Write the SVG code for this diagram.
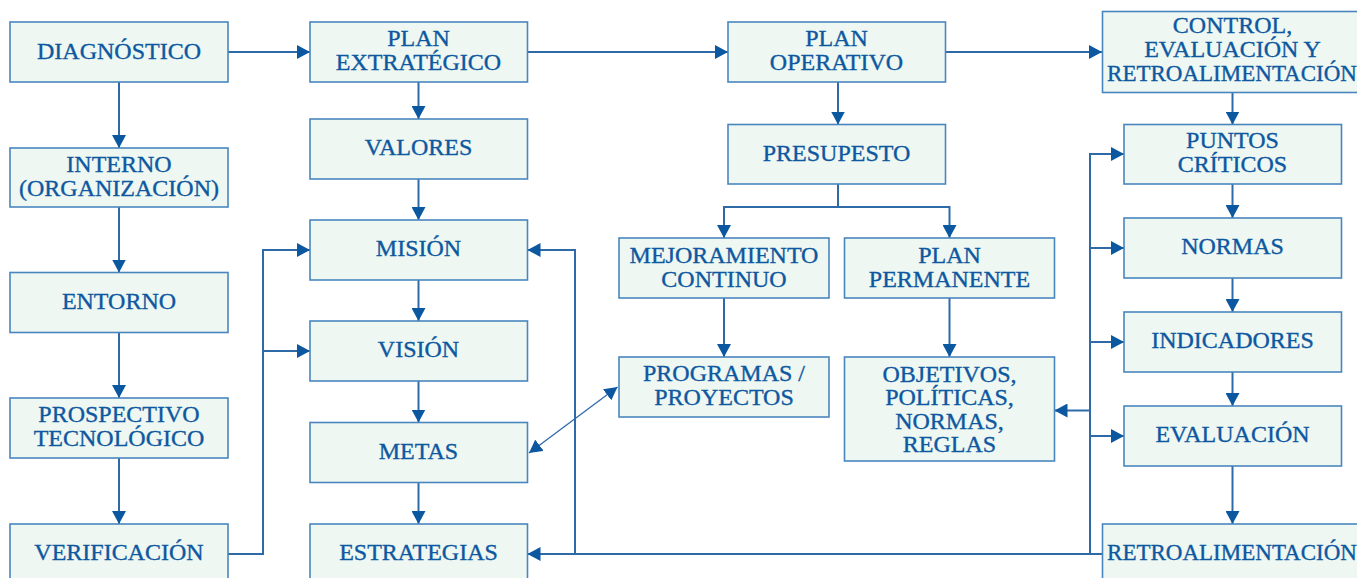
<svg xmlns="http://www.w3.org/2000/svg" width="1357" height="578" viewBox="0 0 1357 578">
<defs>
<style>
.box rect{fill:#eef7f2;stroke:#4a86be;stroke-width:1.6}
.box text{font-family:"Liberation Serif","Times New Roman",serif;font-size:24px;fill:#0d58a0;stroke:#0d58a0;stroke-width:0.35;text-anchor:middle}
.box text.w{font-size:23px}
.c{fill:none;stroke:#2f6aa8;stroke-width:2}
.thin{stroke-width:1.3}
</style>
<marker id="a" markerUnits="userSpaceOnUse" markerWidth="14" markerHeight="14" refX="13" refY="7" orient="auto">
<path d="M0,0 L13,7 L0,14 z" fill="#0b58a0"/>
</marker>
<marker id="as" markerUnits="userSpaceOnUse" markerWidth="14" markerHeight="14" refX="13" refY="7" orient="auto-start-reverse">
<path d="M0,0 L13,7 L0,14 z" fill="#0b58a0"/>
</marker>
</defs>
<rect width="1357" height="578" fill="#ffffff"/>

<g id="connectors">
<path class="c" d="M228,52 H310" marker-end="url(#a)"/>
<path class="c" d="M527,52 H728" marker-end="url(#a)"/>
<path class="c" d="M945.5,52 H1102" marker-end="url(#a)"/>
<path class="c" d="M119,82 V148" marker-end="url(#a)"/>
<path class="c" d="M119,207 V272.5" marker-end="url(#a)"/>
<path class="c" d="M119,332.5 V398" marker-end="url(#a)"/>
<path class="c" d="M119,458 V524" marker-end="url(#a)"/>
<path class="c" d="M228,554 H263 V250 H310" marker-end="url(#a)"/>
<path class="c" d="M263,351 H310" marker-end="url(#a)"/>
<path class="c" d="M418.5,82 V119" marker-end="url(#a)"/>
<path class="c" d="M418.5,179 V220" marker-end="url(#a)"/>
<path class="c" d="M418.5,280 V321" marker-end="url(#a)"/>
<path class="c" d="M418.5,381 V422.5" marker-end="url(#a)"/>
<path class="c" d="M418.5,482.5 V524" marker-end="url(#a)"/>
<path class="c" d="M838,82 V124.5" marker-end="url(#a)"/>
<path class="c" d="M838,184 V207 H724 V238" marker-end="url(#a)"/>
<path class="c" d="M838,207 H949.5 V238" marker-end="url(#a)"/>
<path class="c" d="M724,298 V357" marker-end="url(#a)"/>
<path class="c" d="M949.5,298 V357" marker-end="url(#a)"/>
<path class="c thin" d="M617.5,387 L529,453" marker-start="url(#as)" marker-end="url(#a)"/>
<path class="c" d="M1232.5,92.5 V124.5" marker-end="url(#a)"/>
<path class="c" d="M1232.5,184 V218" marker-end="url(#a)"/>
<path class="c" d="M1232.5,278 V312" marker-end="url(#a)"/>
<path class="c" d="M1232.5,372 V406" marker-end="url(#a)"/>
<path class="c" d="M1232.5,466 V524" marker-end="url(#a)"/>
<path class="c" d="M1102,554 H527.5" marker-end="url(#a)"/>
<path class="c" d="M1090,554 V154 H1124" marker-end="url(#a)"/>
<path class="c" d="M1090,248 H1124" marker-end="url(#a)"/>
<path class="c" d="M1090,342 H1124" marker-end="url(#a)"/>
<path class="c" d="M1090,436 H1124" marker-end="url(#a)"/>
<path class="c" d="M1090,410.5 H1054.5" marker-end="url(#a)"/>
<path class="c" d="M575,554 V250 H527.5" marker-end="url(#a)"/>
</g>

<g id="diagnostico" class="box"><rect x="10" y="22" width="218" height="60"/><text x="119" y="58.5">DIAGNÓSTICO</text></g>
<g id="interno" class="box"><rect x="10" y="148" width="218" height="59"/><text x="119" y="171.5">INTERNO</text><text x="119" y="195.5">(ORGANIZACIÓN)</text></g>
<g id="entorno" class="box"><rect x="10" y="272.5" width="218" height="60"/><text x="119" y="309">ENTORNO</text></g>
<g id="prospectivo" class="box"><rect x="10" y="398" width="218" height="60"/><text x="119" y="422">PROSPECTIVO</text><text x="119" y="446">TECNOLÓGICO</text></g>
<g id="verificacion" class="box"><rect x="10" y="524" width="218" height="60"/><text x="119" y="560">VERIFICACIÓN</text></g>

<g id="plan-extrategico" class="box"><rect x="310" y="22" width="217.5" height="60"/><text x="418.5" y="46">PLAN</text><text x="418.5" y="70">EXTRATÉGICO</text></g>
<g id="valores" class="box"><rect x="310" y="119" width="217.5" height="60"/><text x="418.5" y="155">VALORES</text></g>
<g id="mision" class="box"><rect x="310" y="220" width="217.5" height="60"/><text x="418.5" y="256">MISIÓN</text></g>
<g id="vision" class="box"><rect x="310" y="321" width="217.5" height="60"/><text x="418.5" y="357">VISIÓN</text></g>
<g id="metas" class="box"><rect x="310" y="422.5" width="217.5" height="60"/><text x="418.5" y="458.5">METAS</text></g>
<g id="estrategias" class="box"><rect x="310" y="524" width="217.5" height="60"/><text x="418.5" y="560">ESTRATEGIAS</text></g>

<g id="plan-operativo" class="box"><rect x="728" y="22" width="217.5" height="60"/><text x="836.5" y="46">PLAN</text><text x="836.5" y="70">OPERATIVO</text></g>
<g id="presupesto" class="box"><rect x="728" y="124.5" width="217.5" height="59.5"/><text x="836.5" y="160.5">PRESUPESTO</text></g>
<g id="mejoramiento" class="box"><rect x="619" y="238" width="210" height="60"/><text x="724" y="262.5">MEJORAMIENTO</text><text x="724" y="286.5">CONTINUO</text></g>
<g id="plan-permanente" class="box"><rect x="844.5" y="238" width="210" height="60"/><text x="949.5" y="262.5">PLAN</text><text x="949.5" y="286.5">PERMANENTE</text></g>
<g id="programas" class="box"><rect x="619" y="357" width="210" height="60"/><text x="724" y="381">PROGRAMAS /</text><text x="724" y="404.5">PROYECTOS</text></g>
<g id="objetivos" class="box"><rect x="844.5" y="357" width="210" height="104"/><text x="949.5" y="381.5">OBJETIVOS,</text><text x="949.5" y="405">POLÍTICAS,</text><text x="949.5" y="428.5">NORMAS,</text><text x="949.5" y="452">REGLAS</text></g>

<g id="control" class="box"><rect x="1102.5" y="11.5" width="262" height="81"/><text x="1232.5" y="33">CONTROL,</text><text x="1232.5" y="57">EVALUACIÓN Y</text><text class="w" x="1232" y="81">RETROALIMENTACIÓN</text></g>
<g id="puntos-criticos" class="box"><rect x="1124" y="124.5" width="217.5" height="59.5"/><text x="1232.5" y="147.5">PUNTOS</text><text x="1232.5" y="171.5">CRÍTICOS</text></g>
<g id="normas" class="box"><rect x="1124" y="218" width="217.5" height="60"/><text x="1232.5" y="254">NORMAS</text></g>
<g id="indicadores" class="box"><rect x="1124" y="312" width="217.5" height="60"/><text x="1232.5" y="348">INDICADORES</text></g>
<g id="evaluacion" class="box"><rect x="1124" y="406" width="217.5" height="60"/><text x="1232.5" y="442">EVALUACIÓN</text></g>
<g id="retroalimentacion" class="box"><rect x="1102.5" y="524" width="262" height="60"/><text class="w" x="1232" y="560">RETROALIMENTACIÓN</text></g>
</svg>
